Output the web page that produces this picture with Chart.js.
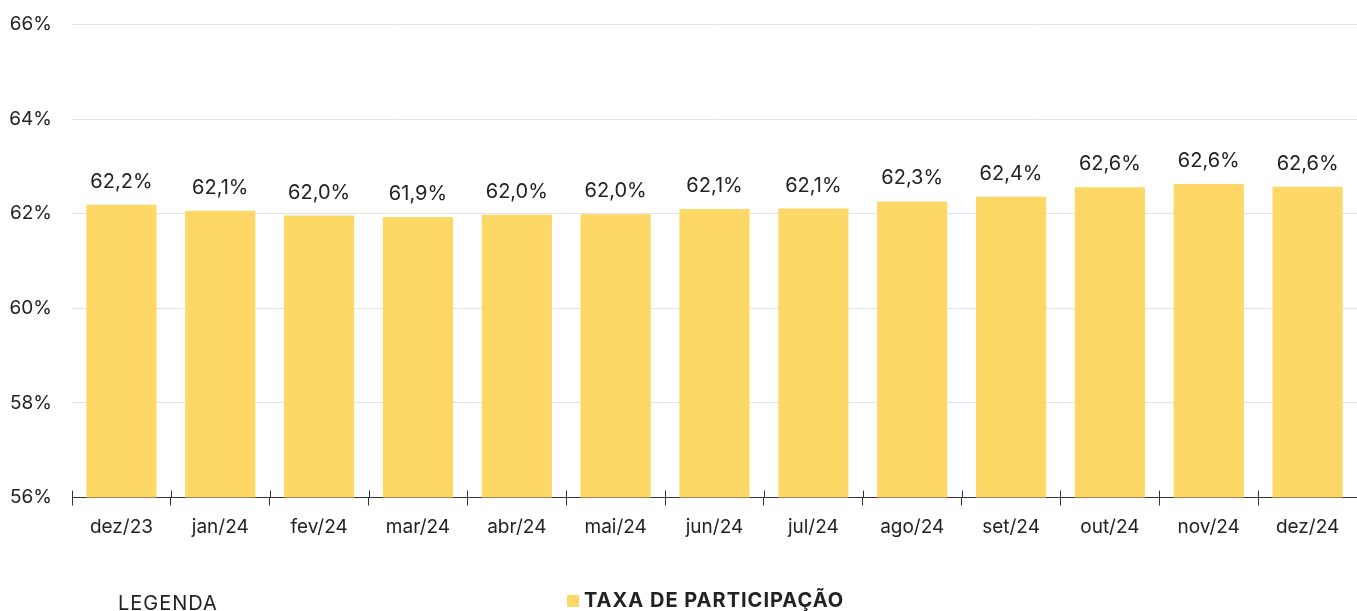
<!DOCTYPE html>
<html><head><meta charset="utf-8">
<script src="https://cdn.jsdelivr.net/npm/chart.js@4/dist/chart.umd.min.js"></script>
<style>
html,body{margin:0;padding:0;background:#fff;overflow:hidden}
#wrap{position:relative;width:1357px;height:611px}
canvas{position:absolute;left:0;top:0}
.leg{position:absolute;font-family:Inter,"Open Sans",sans-serif;font-size:20px;color:#222;white-space:nowrap;line-height:1;letter-spacing:1px}
</style></head><body>
<div id="wrap">
<canvas id="c" width="1357" height="611"></canvas>
<div class="leg" style="left:118px;top:593px">LEGENDA</div>
<div class="leg" id="lg2" style="left:567px;top:590px;font-weight:bold"><span id="sw" style="display:inline-block;width:12px;height:12px;margin-right:5px;vertical-align:0px"></span>TAXA DE PARTICIPAÇÃO</div>
</div>
<script>
const categories = ["dez/23","jan/24","fev/24","mar/24","abr/24","mai/24","jun/24","jul/24","ago/24","set/24","out/24","nov/24","dez/24"];
const participationRate = [62.19,62.06,61.96,61.93,61.98,61.99,62.1,62.11,62.26,62.36,62.56,62.63,62.57];
const yTicks = [56,58,60,62,64,66];
const seriesName = "TAXA DE PARTICIPAÇÃO";
const barColor = "#FDD867";
const FONT = "Inter";

document.getElementById('sw').style.background = barColor;

const fmt = v => v.toFixed(1).replace('.', ',') + '%';

const valueLabels = {
  id: 'valueLabels',
  afterDatasetsDraw(chart) {
    const ctx = chart.ctx;
    const meta = chart.getDatasetMeta(0);
    ctx.save();
    ctx.font = '20px ' + FONT;
    ctx.fillStyle = '#222';
    ctx.textAlign = 'center';
    ctx.textBaseline = 'middle';
    meta.data.forEach((bar, i) => {
      ctx.fillText(fmt(chart.data.datasets[0].data[i]), bar.x, bar.y - 23);
    });
    ctx.restore();
  }
};

const upperTicks = {
  id: 'upperTicks',
  afterDraw(chart) {
    const xs = chart.scales.x;
    const ctx = chart.ctx;
    ctx.save();
    ctx.strokeStyle = '#333';
    ctx.lineWidth = 1;
    const n = chart.data.labels.length;
    const step = xs.getPixelForValue(1) - xs.getPixelForValue(0);
    for (let i = 0; i < n; i++) {
      const x = Math.round(xs.getPixelForValue(i) - step / 2) + 0.5;
      ctx.beginPath();
      ctx.moveTo(x, xs.top - 7);
      ctx.lineTo(x, xs.top);
      ctx.stroke();
    }
    ctx.restore();
  }
};

new Chart(document.getElementById('c'), {
  type: 'bar',
  data: {
    labels: categories,
    datasets: [{
      label: seriesName,
      data: participationRate,
      backgroundColor: barColor,
      borderWidth: 0,
      categoryPercentage: 1,
      barPercentage: 0.71
    }]
  },
  options: {
    responsive: false,
    animation: false,
    devicePixelRatio: 1,
    layout: { padding: { top: 24.5, right: 0, bottom: 52.5, left: 0 } },
    plugins: { legend: { display: false }, tooltip: { enabled: false } },
    scales: {
      x: {
        offset: true,
        grid: { offset: true, drawOnChartArea: false, tickLength: 8, color: '#333', tickColor: '#333' },
        border: { display: true, color: '#333', width: 1 },
        ticks: { color: '#222', font: { family: FONT, size: 19 }, padding: 10, maxRotation: 0, autoSkip: false },
        afterFit(s) { s.height = 61; s.paddingLeft = 0; s.paddingRight = 0; }
      },
      y: {
        min: 56, max: 66,
        afterBuildTicks(s) { s.ticks = yTicks.map(v => ({ value: v })); },
        grid: { color: '#e2e2e2', lineWidth: 1, drawTicks: false },
        border: { display: false },
        ticks: { color: '#222', font: { family: FONT, size: 19 }, padding: 20, callback: v => v + '%' },
        afterFit(s) { s.width = 72; s.paddingTop = 0; s.paddingBottom = 0; }
      }
    }
  },
  plugins: [valueLabels, upperTicks]
});
</script>
</body></html>
